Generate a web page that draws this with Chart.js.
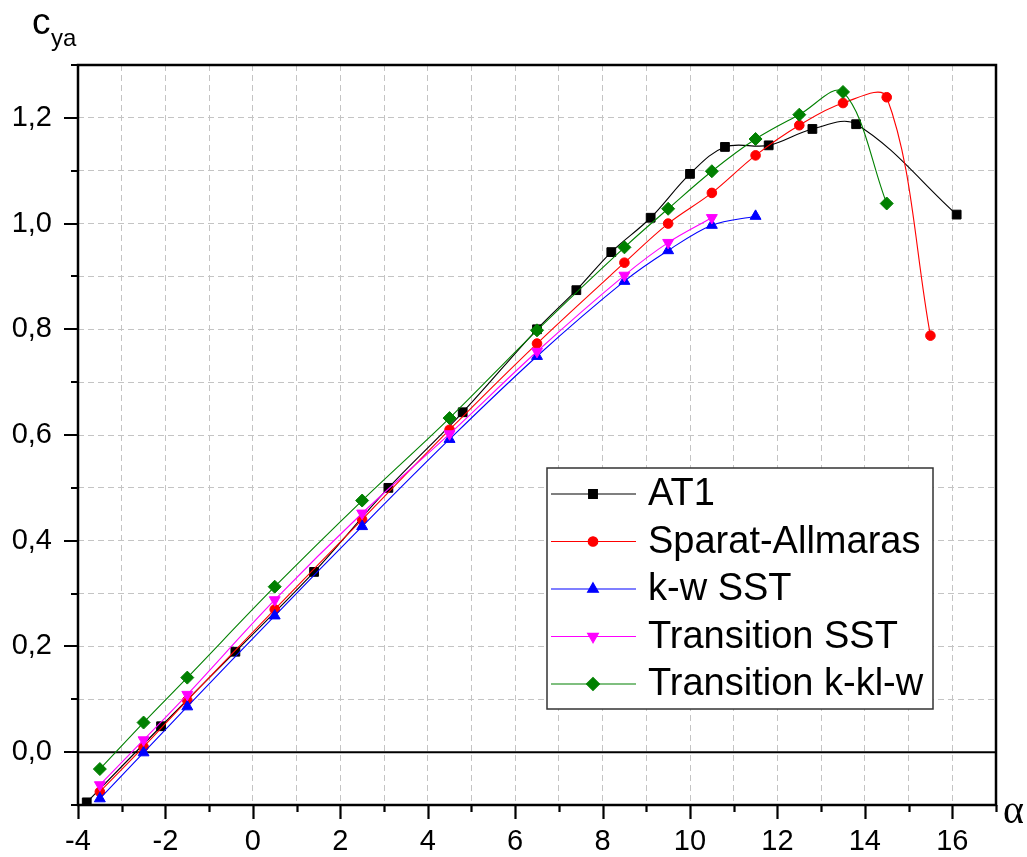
<!DOCTYPE html>
<html>
<head>
<meta charset="utf-8">
<title>c_ya(alpha)</title>
<script src="https://cdn.jsdelivr.net/npm/chart.js@4.4.1/dist/chart.umd.min.js"></script>
<style>
  html, body { margin: 0; padding: 0; background: #fff; }
  #chart { display: block; }
</style>
</head>
<body>
<canvas id="chart" width="1027" height="857"></canvas>
<script>
// Experiment AT1: angles and lift coefficient
const alphaAT1 = [-3.8, -2.1, -0.4, 1.4, 3.1, 4.8, 6.5, 7.4, 8.2, 9.1, 10.0, 10.8, 11.8, 12.8, 13.8, 16.1];
const cyAT1    = [-0.095, 0.049, 0.19, 0.341, 0.50, 0.643, 0.80, 0.874, 0.946, 1.011, 1.094, 1.145, 1.148, 1.179, 1.188, 1.017];

// Calculated angles (same for all turbulence models)
const alphaCalc = [-3.5, -2.5, -1.5, 0.5, 2.5, 4.5, 6.5, 8.5, 9.5, 10.5, 11.5, 12.5, 13.5, 14.5, 15.5];
const cySA       = [-0.075, 0.010, 0.098, 0.270, 0.440, 0.610, 0.773, 0.926, 1.000, 1.058, 1.129, 1.186, 1.228, 1.239, 0.788];
const cyKwSST    = [-0.088, -0.001, 0.086, 0.258, 0.427, 0.592, 0.749, 0.891, 0.949, 0.997, 1.014];
const cyTransSST = [-0.062, 0.023, 0.109, 0.288, 0.452, 0.602, 0.758, 0.902, 0.964, 1.011];
const cyKklw     = [-0.032, 0.056, 0.141, 0.313, 0.476, 0.632, 0.798, 0.955, 1.028, 1.099, 1.160, 1.206, 1.249, 1.038];

const seriesNames = ['AT1', 'Sparat-Allmaras', 'k-w SST', 'Transition SST', 'Transition k-kl-w'];

// labelled ticks
const xTickValues = [-4, -2, 0, 2, 4, 6, 8, 10, 12, 14, 16];
const xTickLabels = ['-4', '-2', '0', '2', '4', '6', '8', '10', '12', '14', '16'];
const yTickValues = [0, 0.2, 0.4, 0.6, 0.8, 1.0, 1.2];
const yTickLabels = ['0,0', '0,2', '0,4', '0,6', '0,8', '1,0', '1,2'];

function toPoints(xs, ys) {
    return ys.map(function (v, i) { return { x: xs[i], y: v }; });
}

function findTick(values, v) {
    for (let i = 0; i < values.length; i++) {
        if (Math.abs(values[i] - v) < 1e-6) return i;
    }
    return -1;
}

const styles = [
    { color: '#000000', pointStyle: 'rect', radius: 6.2, rotation: 0 },
    { color: '#ff0000', pointStyle: 'circle', radius: 4.8, rotation: 0 },
    { color: '#0000ff', pointStyle: 'triangle', radius: 6.3, rotation: 0 },
    { color: '#ff00ff', pointStyle: 'triangle', radius: 6.3, rotation: 180 },
    { color: '#008000', pointStyle: 'rectRot', radius: 6.5, rotation: 0 }
];

const seriesData = [
    toPoints(alphaAT1, cyAT1),
    toPoints(alphaCalc, cySA),
    toPoints(alphaCalc, cyKwSST),
    toPoints(alphaCalc, cyTransSST),
    toPoints(alphaCalc, cyKklw)
];

const datasets = seriesData.map(function (pts, i) {
    const s = styles[i];
    return {
        label: seriesNames[i],
        data: pts,
        showLine: true,
        borderColor: s.color,
        backgroundColor: s.color,
        borderWidth: 1.1,
        tension: 0.35,
        pointStyle: s.pointStyle,
        pointRotation: s.rotation,
        pointRadius: s.radius,
        pointBorderWidth: 1,
        pointBackgroundColor: s.color,
        pointBorderColor: s.color,
        order: 4 - i
    };
});

// frame, ticks, zero line, legend and axis titles
const decorPlugin = {
    id: 'decor',
    beforeDatasetsDraw(chart) {
        const ctx = chart.ctx;
        const a = chart.chartArea;
        const y0 = chart.scales.y.getPixelForValue(0);
        ctx.save();
        ctx.strokeStyle = '#000';
        ctx.lineWidth = 2;
        ctx.beginPath();
        ctx.moveTo(a.left, y0);
        ctx.lineTo(a.right, y0);
        ctx.stroke();
        ctx.restore();
    },
    afterDatasetsDraw(chart) {
        const ctx = chart.ctx;
        const a = chart.chartArea;
        const xs = chart.scales.x;
        const ys = chart.scales.y;
        ctx.save();

        // frame
        ctx.strokeStyle = '#000';
        ctx.lineWidth = 2.5;
        ctx.strokeRect(a.left, a.top, a.right - a.left, a.bottom - a.top);

        // tick marks
        ctx.lineWidth = 2.2;
        ctx.beginPath();
        xs.ticks.forEach(function (t) {
            const px = Math.round(xs.getPixelForValue(t.value)) + 0.5;
            const len = findTick(xTickValues, t.value) >= 0 ? 14 : 7;
            ctx.moveTo(px, a.bottom);
            ctx.lineTo(px, a.bottom + len);
        });
        ys.ticks.forEach(function (t) {
            const py = Math.round(ys.getPixelForValue(t.value));
            const len = findTick(yTickValues, t.value) >= 0 ? 14 : 7;
            ctx.moveTo(a.left, py);
            ctx.lineTo(a.left - len, py);
        });
        ctx.stroke();

        // axis titles
        ctx.fillStyle = '#000';
        ctx.textBaseline = 'alphabetic';
        ctx.textAlign = 'left';
        ctx.font = '37px "Liberation Sans", Arial, sans-serif';
        ctx.fillText('c', 32, 34);
        ctx.font = '24px "Liberation Sans", Arial, sans-serif';
        ctx.fillText('ya', 51, 46);
        ctx.font = '40px "Liberation Serif", "Times New Roman", serif';
        ctx.fillText('\u03b1', 1003, 823);

        // legend
        const lg = { left: 547, top: 468, width: 386, height: 241, firstRow: 494, rowH: 47.5 };
        ctx.fillStyle = '#fff';
        ctx.fillRect(lg.left, lg.top, lg.width, lg.height);
        ctx.strokeStyle = '#333';
        ctx.lineWidth = 1.5;
        ctx.strokeRect(lg.left, lg.top, lg.width, lg.height);
        chart.data.datasets.forEach(function (ds, i) {
            const ry = lg.firstRow + i * lg.rowH;
            ctx.strokeStyle = ds.borderColor;
            ctx.lineWidth = 1.1;
            ctx.beginPath();
            ctx.moveTo(lg.left + 4, ry);
            ctx.lineTo(lg.left + 89, ry);
            ctx.stroke();
            ctx.fillStyle = ds.pointBackgroundColor;
            ctx.strokeStyle = ds.pointBorderColor;
            Chart.helpers.drawPoint(ctx, {
                pointStyle: ds.pointStyle,
                radius: ds.pointRadius,
                rotation: ds.pointRotation,
                borderWidth: 1
            }, lg.left + 46, ry);
            ctx.fillStyle = '#000';
            ctx.font = '38px "Liberation Sans", Arial, sans-serif';
            ctx.textBaseline = 'middle';
            ctx.fillText(ds.label, lg.left + 101, ry + 1);
        });
        ctx.restore();
    }
};

const ctx = document.getElementById('chart').getContext('2d');
const chart = new Chart(ctx, {
    type: 'scatter',
    data: { datasets: datasets },
    options: {
        responsive: false,
        animation: false,
        devicePixelRatio: 1,
        layout: { padding: { top: 65, right: 31, left: 0, bottom: 0 } },
        plugins: {
            legend: { display: false },
            tooltip: { enabled: false }
        },
        scales: {
            x: {
                type: 'linear',
                min: -4,
                max: 17,
                afterFit: function (scale) { scale.height = 52; },
                border: { display: false, dash: [6, 4] },
                grid: { color: '#c4c4c4', lineWidth: 1, drawTicks: false },
                ticks: {
                    stepSize: 1,
                    autoSkip: false,
                    maxRotation: 0,
                    padding: 20,
                    color: '#000',
                    font: { family: '"Liberation Sans", Arial, sans-serif', size: 29 },
                    callback: function (value) {
                        const i = findTick(xTickValues, value);
                        return i >= 0 ? xTickLabels[i] : '';
                    }
                }
            },
            y: {
                type: 'linear',
                min: -0.1,
                max: 1.3,
                afterFit: function (scale) { scale.width = 78; },
                border: { display: false, dash: [6, 4] },
                grid: { color: '#c4c4c4', lineWidth: 1, drawTicks: false },
                ticks: {
                    stepSize: 0.1,
                    autoSkip: false,
                    padding: 26,
                    color: '#000',
                    font: { family: '"Liberation Sans", Arial, sans-serif', size: 29 },
                    callback: function (value) {
                        const i = findTick(yTickValues, value);
                        return i >= 0 ? yTickLabels[i] : '';
                    }
                }
            }
        }
    },
    plugins: [decorPlugin]
});
</script>
</body>
</html>
